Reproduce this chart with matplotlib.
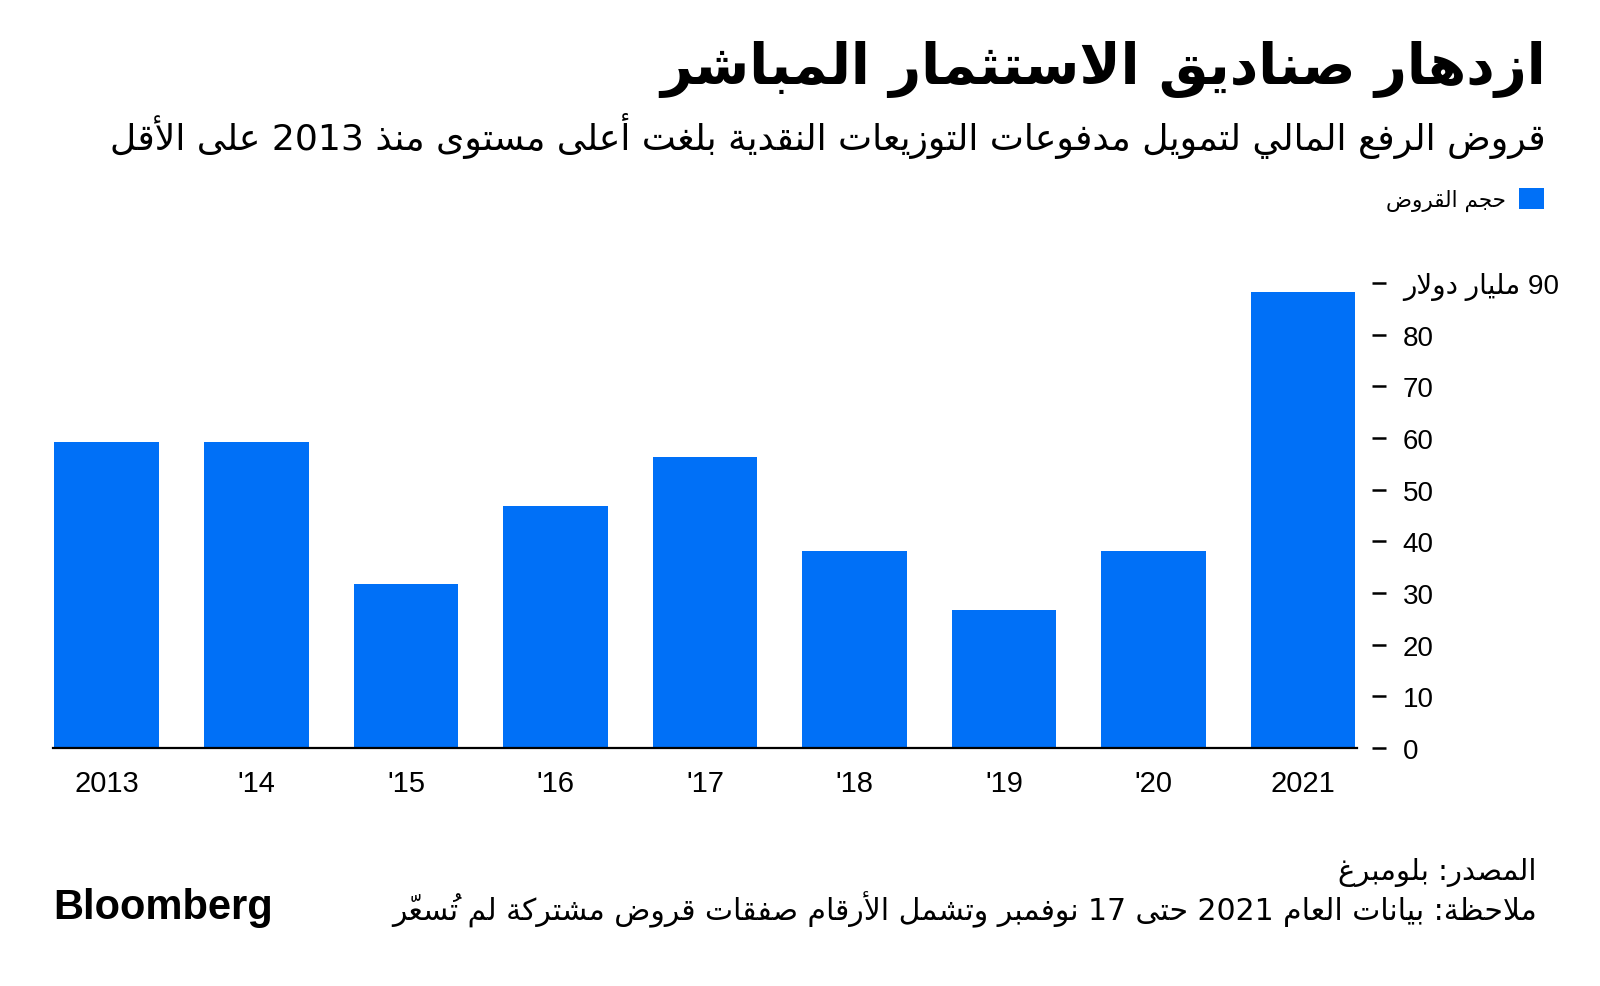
import re
import matplotlib
matplotlib.use("Agg")
import matplotlib.pyplot as plt

# ── data ─────────────────────────────────────────────────────────────────────
years = ["2013", "'14", "'15", "'16", "'17", "'18", "'19", "'20", "2021"]
loans = [59.3, 59.3, 31.8, 46.8, 56.3, 38.2, 26.7, 38.2, 88.2]
y_ticks = [0, 10, 20, 30, 40, 50, 60, 70, 80, 90]

title = "ازدهار صناديق الاستثمار المباشر"
subtitle = "قروض الرفع المالي لتمويل مدفوعات التوزيعات النقدية بلغت أعلى مستوى منذ 2013 على الأقل"
legend_label = "حجم القروض"
unit_label = "90 مليار دولار"
source = "المصدر: بلومبرغ"
note = "ملاحظة: بيانات العام 2021 حتى 17 نوفمبر وتشمل الأرقام صفقات قروض مشتركة لم تُسعّر"

BLUE = "#0070f7"

# ── minimal arabic shaping (matplotlib has no text shaping) ─────────────────
# (letter, first presentation form, number of forms)
_table = [
    ("\u0621", 0xFE80, 1), ("\u0622", 0xFE81, 2), ("\u0623", 0xFE83, 2),
    ("\u0624", 0xFE85, 2), ("\u0625", 0xFE87, 2), ("\u0626", 0xFE89, 4),
    ("\u0627", 0xFE8D, 2), ("\u0628", 0xFE8F, 4), ("\u0629", 0xFE93, 2),
    ("\u062A", 0xFE95, 4), ("\u062B", 0xFE99, 4), ("\u062C", 0xFE9D, 4),
    ("\u062D", 0xFEA1, 4), ("\u062E", 0xFEA5, 4), ("\u062F", 0xFEA9, 2),
    ("\u0630", 0xFEAB, 2), ("\u0631", 0xFEAD, 2), ("\u0632", 0xFEAF, 2),
    ("\u0633", 0xFEB1, 4), ("\u0634", 0xFEB5, 4), ("\u0635", 0xFEB9, 4),
    ("\u0636", 0xFEBD, 4), ("\u0637", 0xFEC1, 4), ("\u0638", 0xFEC5, 4),
    ("\u0639", 0xFEC9, 4), ("\u063A", 0xFECD, 4), ("\u0641", 0xFED1, 4),
    ("\u0642", 0xFED5, 4), ("\u0643", 0xFED9, 4), ("\u0644", 0xFEDD, 4),
    ("\u0645", 0xFEE1, 4), ("\u0646", 0xFEE5, 4), ("\u0647", 0xFEE9, 4),
    ("\u0648", 0xFEED, 2), ("\u0649", 0xFEEF, 2), ("\u064A", 0xFEF1, 4),
]
FORMS = {c: (b, n) for c, b, n in _table}
LAM_ALEF = {"\u0622": 0xFEF5, "\u0623": 0xFEF7, "\u0625": 0xFEF9, "\u0627": 0xFEFB}


def is_mark(c):
    return 0x064B <= ord(c) <= 0x0652


def ar(text):
    chars = list(text)
    n = len(chars)

    def next_letter(i):
        j = i + 1
        while j < n and is_mark(chars[j]):
            j += 1
        return j if j < n else None

    items = []
    prev = None
    i = 0
    while i < n:
        c = chars[i]
        if is_mark(c):
            # mark drawn first so it lands over its base letter
            if items:
                items[-1] = c + items[-1]
            i += 1
            continue
        if c not in FORMS:
            items.append(c)
            prev = None
            i += 1
            continue
        prev_joins = prev is not None and FORMS[prev][1] == 4
        j = next_letter(i)
        nxt = chars[j] if j is not None else None
        if c == "\u0644" and nxt in LAM_ALEF:
            items.append(chr(LAM_ALEF[nxt] + (1 if prev_joins else 0)))
            prev = nxt
            i = j + 1
            continue
        base, nf = FORMS[c]
        next_joins = nf == 4 and nxt in FORMS and FORMS[nxt][1] > 1
        if nf == 1:
            g = base
        elif nf == 2:
            g = base + 1 if prev_joins else base
        else:
            if prev_joins and next_joins:
                g = base + 3
            elif prev_joins:
                g = base + 1
            elif next_joins:
                g = base + 2
            else:
                g = base
        items.append(chr(g))
        prev = c
        i += 1

    items = items[::-1]
    # put latin / digit runs back into left-to-right order
    out, run = [], []
    for it in items:
        if re.match(r"[0-9A-Za-z]", it):
            run.append(it)
        else:
            out.extend(run[::-1])
            run = []
            out.append(it)
    out.extend(run[::-1])
    return "".join(out)


# ── figure ───────────────────────────────────────────────────────────────────
plt.rcParams["font.family"] = ["Liberation Sans", "DejaVu Sans"]

fig = plt.figure(figsize=(16, 9.87), dpi=100)
ax = fig.add_axes([0.0331, 0.2411, 0.815, 0.4712])

x = range(len(years))
bars = ax.bar(x, loans, width=0.7, color=BLUE, label=ar(legend_label), zorder=2)

ax.set_xlim(-0.36, len(years) - 1 + 0.36)
ax.set_ylim(0, 90)
ax.set_xticks(list(x))
ax.set_xticklabels(years)
ax.tick_params(axis="x", length=0, pad=15, labelsize=21)

ax.yaxis.tick_right()
ax.set_yticks(y_ticks)
ax.set_yticklabels([str(v) for v in y_ticks[:-1]] + [ar(unit_label)])
ax.tick_params(axis="y", length=10, width=1.8, pad=12, labelsize=20)

for s in ["top", "left"]:
    ax.spines[s].set_visible(False)
ax.spines["right"].set_position(("outward", 11))
ax.spines["right"].set_visible(False)
ax.spines["bottom"].set_linewidth(1.6)
ax.spines["bottom"].set_zorder(3)

fig.text(0.966, 0.930, ar(title), ha="right", va="center",
         fontsize=40, fontweight="bold", family="DejaVu Sans")
fig.text(0.966, 0.862, ar(subtitle), ha="right", va="center",
         fontsize=26, family="DejaVu Sans")

fig.legend(handles=[bars], labels=[ar(legend_label)], loc="center right",
           bbox_to_anchor=(0.977, 0.797), frameon=False, markerfirst=False,
           handlelength=1.15, handleheight=1.15, handletextpad=0.6,
           prop={"family": "DejaVu Sans", "size": 15.5})

fig.text(0.9606, 0.1165, ar(source), ha="right", va="center",
         fontsize=21, family="DejaVu Sans")
fig.text(0.9606, 0.078, ar(note), ha="right", va="center",
         fontsize=21.5, family="DejaVu Sans")
fig.text(0.033, 0.080, "Bloomberg", ha="left", va="center",
         fontsize=30, fontweight="bold", family="Liberation Sans")

fig.savefig("out.png", dpi=100)
